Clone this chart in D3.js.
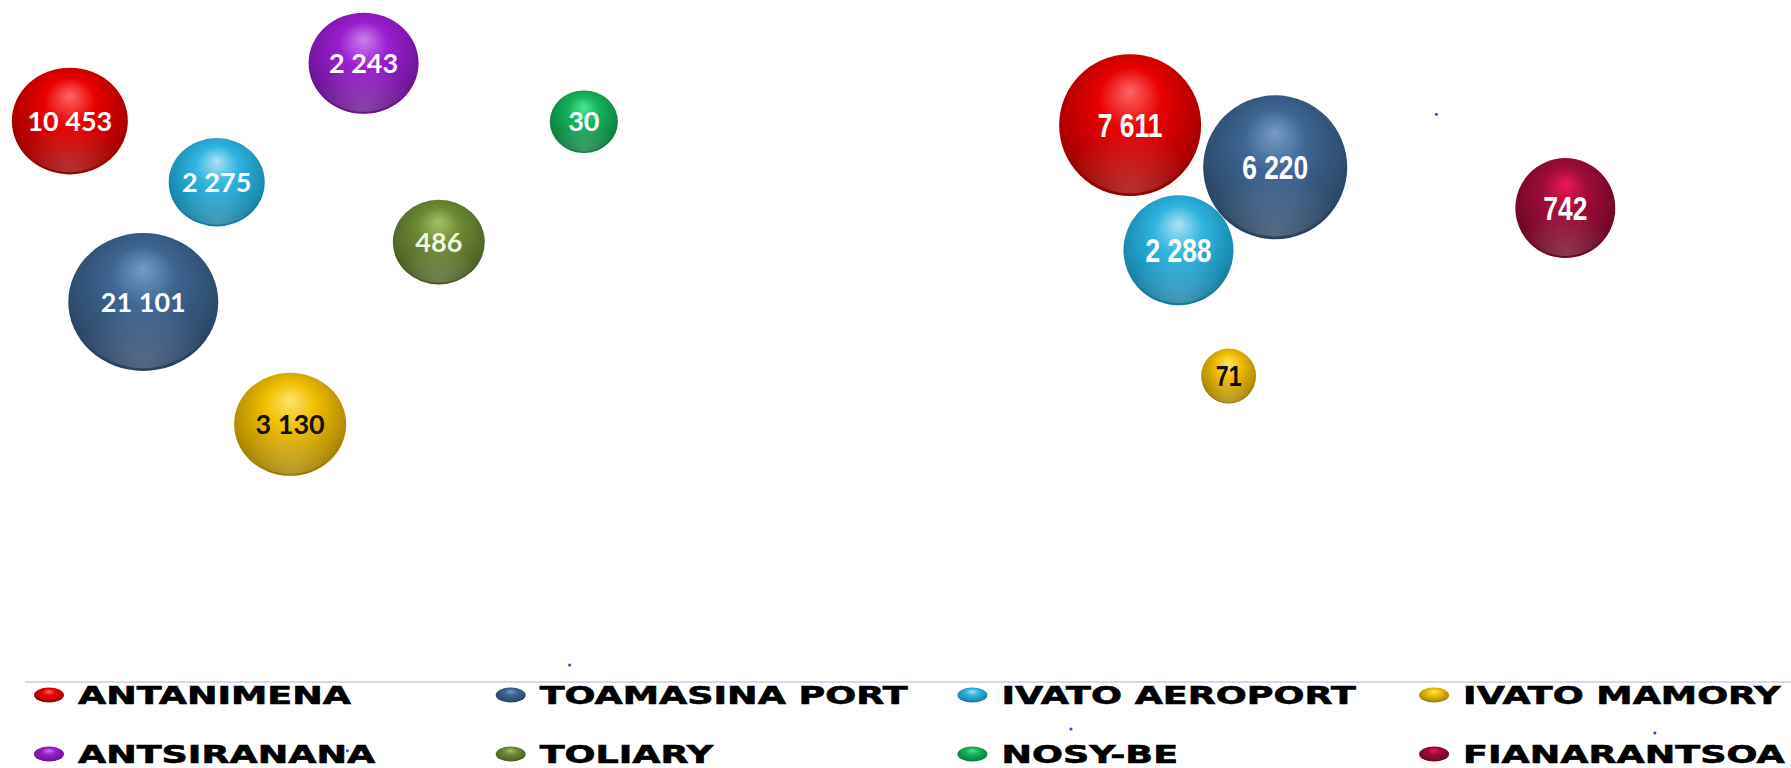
<!DOCTYPE html>
<html>
<head>
<meta charset="utf-8">
<script src="https://cdn.jsdelivr.net/npm/d3@7"></script>
<style>
  html, body { margin: 0; padding: 0; background: #fff; overflow: hidden; }
</style>
</head>
<body>
<div id="bubble-chart"></div>
<script>
// Stations shown in the legend (two rows of four)
var stations = ["ANTANIMENA", "TOAMASINA PORT", "IVATO AEROPORT", "IVATO MAMORY",
                "ANTSIRANANA", "TOLIARY", "NOSY-BE", "FIANARANTSOA"];
var stationColors = ["#e80000", "#3d6491", "#2fb4e0", "#f0bf00",
                     "#9a1ed0", "#6e8a35", "#16b35c", "#9e0c38"];

// Bubbles: two groups (left picture / right picture)
var bubbleStation = ["ANTANIMENA", "ANTSIRANANA", "NOSY-BE", "IVATO AEROPORT", "TOLIARY", "TOAMASINA PORT", "IVATO MAMORY",
                     "ANTANIMENA", "TOAMASINA PORT", "IVATO AEROPORT", "IVATO MAMORY", "FIANARANTSOA"];
var bubbleGroup = ["left", "left", "left", "left", "left", "left", "left",
                   "right", "right", "right", "right", "right"];
var bubbleValues = [10453, 2243, 30, 2275, 486, 21101, 3130, 7611, 6220, 2288, 71, 742];
var bubbleX = [3.9, 20.3, 32.6, 12.1, 24.5, 8.0, 16.2, 63.1, 71.2, 65.8, 68.6, 87.4];
var bubbleY = [82.2, 90.7, 82.1, 73.2, 64.4, 55.6, 37.6, 81.6, 75.4, 63.2, 44.7, 69.4];
var bubbleSize = [59.8, 53.8, 20.6, 41.0, 37.6, 100, 55.8, 89.6, 92.2, 53.8, 13.4, 44.4];

// stray tiny points visible on the picture
var dotX = [31.8, 80.2, 59.8, 92.4, 19.4];
var dotY = [2.2, 83.2, -7.2, -7.8, -10.4];

function createBubbleChart() {
    var width = 1791, height = 768;
    var plotBottom = 680;

    var svg = d3.select("#bubble-chart")
        .append("svg")
        .attr("width", width)
        .attr("height", height);

    var defs = svg.append("defs");

    // one sphere gradient per station colour
    stations.forEach(function (s, i) {
        var c = d3.hsl(stationColors[i]);
        var g = defs.append("radialGradient")
            .attr("id", "sphere" + i)
            .attr("cx", "50%").attr("cy", "42%").attr("r", "62%")
            .attr("fx", "50%").attr("fy", "26%");
        g.append("stop").attr("offset", "0%").attr("stop-color", c.brighter(1.2));
        g.append("stop").attr("offset", "36%").attr("stop-color", c);
        g.append("stop").attr("offset", "78%").attr("stop-color", c.darker(0.75));
        g.append("stop").attr("offset", "100%").attr("stop-color", c.darker(1.4));
    });
    // bottom reflection
    var refl = defs.append("radialGradient")
        .attr("id", "reflect")
        .attr("cx", "50%").attr("cy", "100%").attr("r", "50%");
    refl.append("stop").attr("offset", "0%").attr("stop-color", "#fff").attr("stop-opacity", 0.2);
    refl.append("stop").attr("offset", "100%").attr("stop-color", "#fff").attr("stop-opacity", 0);

    var xScale = d3.scaleLinear().domain([0, 100]).range([0, width]);
    var yScale = d3.scaleLinear().domain([0, 100]).range([plotBottom, 0]);
    var rScale = d3.scaleSqrt().domain([0, 100]).range([0, 75]);
    var aspect = { left: 0.92, right: 1.0 };

    var fmt = d3.formatLocale({ decimal: ",", thousands: " ", grouping: [3], currency: ["", ""] }).format(",d");

    var data = bubbleValues.map(function (v, i) {
        return { value: v, x: bubbleX[i], y: bubbleY[i], size: bubbleSize[i],
                 station: bubbleStation[i], group: bubbleGroup[i] };
    });
    // legend order decides stacking
    data.sort(function (a, b) {
        if (a.group !== b.group) return a.group === "left" ? -1 : 1;
        return stations.indexOf(a.station) - stations.indexOf(b.station);
    });

    var bubbles = svg.append("g").selectAll("g")
        .data(data)
        .enter()
        .append("g")
        .attr("transform", function (d) { return "translate(" + xScale(d.x) + "," + yScale(d.y) + ")"; });

    bubbles.append("ellipse")
        .attr("rx", function (d) { return rScale(d.size); })
        .attr("ry", function (d) { return rScale(d.size) * aspect[d.group]; })
        .attr("fill", function (d) { return "url(#sphere" + stations.indexOf(d.station) + ")"; });

    bubbles.append("ellipse")
        .attr("rx", function (d) { return rScale(d.size) * 0.96; })
        .attr("ry", function (d) { return rScale(d.size) * aspect[d.group] * 0.96; })
        .attr("fill", "url(#reflect)");

    bubbles.append("text")
        .attr("text-anchor", "middle")
        .attr("dy", "0.36em")
        .attr("transform", function (d) { return d.group === "left" ? null : "scale(0.8,1)"; })
        .style("font-family", function (d) { return d.group === "left" ? "Lato, 'Open Sans', sans-serif" : "'Liberation Sans', Arial, sans-serif"; })
        .style("font-weight", "bold")
        .style("font-size", function (d) { return d.group === "left" ? "27px" : (d.value < 100 ? "29px" : "33px"); })
        .attr("fill", function (d) {
            if (d.station === "IVATO MAMORY") return "#111";
            if (d.station === "TOLIARY") return "#f1f6e2";
            return "#fff";
        })
        .text(function (d) { return fmt(d.value); });

    svg.append("g").selectAll("circle")
        .data(dotX)
        .enter()
        .append("circle")
        .attr("cx", function (d) { return xScale(d); })
        .attr("cy", function (d, i) { return yScale(dotY[i]); })
        .attr("r", 1.5)
        .attr("fill", "#3a3aff");

    // legend
    svg.append("line")
        .attr("x1", 25).attr("x2", width)
        .attr("y1", 682).attr("y2", 682)
        .attr("stroke", "#c8cce4")
        .attr("stroke-width", 1.5);

    var legendX0 = 49, colW = 461.7, rowY0 = 695, rowH = 59;
    var legend = svg.append("g").selectAll("g")
        .data(stations)
        .enter()
        .append("g")
        .attr("transform", function (d, i) {
            return "translate(" + (legendX0 + (i % 4) * colW) + "," + (rowY0 + Math.floor(i / 4) * rowH) + ")";
        });

    legend.append("ellipse")
        .attr("rx", 15).attr("ry", 7.5)
        .attr("fill", function (d, i) { return "url(#sphere" + i + ")"; });

    legend.append("text")
        .attr("transform", "translate(29,9) scale(1.52,1)")
        .style("font-family", "'DejaVu Sans', Verdana, sans-serif")
        .style("font-weight", "bold")
        .style("font-size", "24px")
        .attr("fill", "#000")
        .attr("stroke", "#000")
        .attr("stroke-width", 0.6)
        .text(function (d) { return d; });
}

createBubbleChart();
</script>
</body>
</html>
